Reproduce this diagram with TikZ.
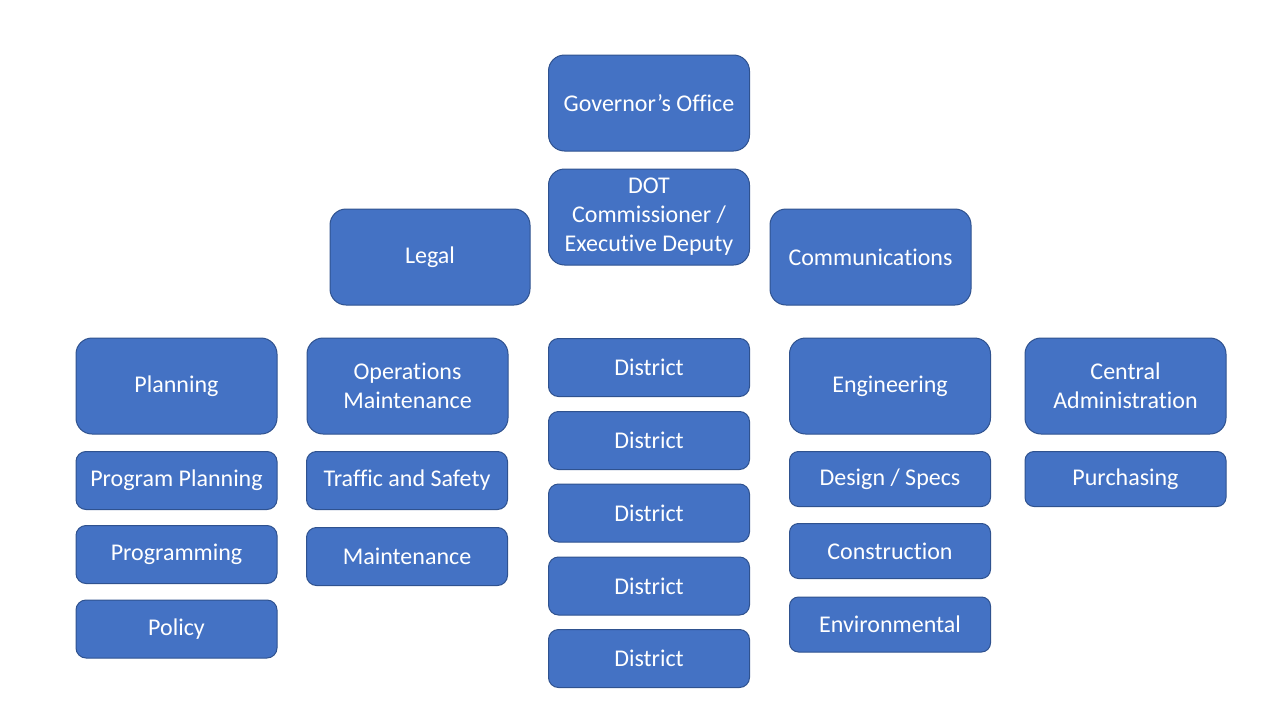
\documentclass[tikz,border=0pt]{standalone}
\usepackage{fontspec}
\setmainfont[Ligatures=CommonOff]{Carlito}
\definecolor{boxfill}{HTML}{4472C4}
\definecolor{boxline}{HTML}{2F528F}
\begin{document}
\begin{tikzpicture}[x=1pt,y=-1pt,
  orgbox/.style={draw=boxline, fill=boxfill, line width=1pt, text=white,
    inner sep=0pt, align=center, font=\fontsize{24}{29}\selectfont},
  big/.style={orgbox, minimum width=201pt, minimum height=96pt, rounded corners=16pt},
  small/.style={orgbox, minimum width=201pt, minimum height=58pt, rounded corners=10pt},
  mid/.style={orgbox, minimum width=201pt, minimum height=55pt, rounded corners=9pt}]
\useasboundingbox (0,0) rectangle (1280,720);
% top
\node[big] (gov) at (649,103) {Governor’s Office};
\node[big] (dot) at (649,217) {DOT\\Commissioner /\\Executive Deputy};
\node[big, minimum width=200pt] (legal) at (430,257) {Legal};
\node[big] (comm) at (870.5,257) {Communications};
% row of departments
\node[big] (plan) at (176.5,386) {Planning};
\node[big] (ops) at (407.5,386) {Operations\\Maintenance};
\node[big] (eng) at (890,386) {Engineering};
\node[big] (cadm) at (1125.5,386) {Central\\Administration};
% districts
\node[small] (d1) at (649,367.5) {District};
\node[small] (d2) at (649,440.5) {District};
\node[small] (d3) at (649,513) {District};
\node[small] (d4) at (649,586) {District};
\node[small] (d5) at (649,658.5) {District};
% planning column
\node[small] (pp) at (176.5,480.5) {Program Planning};
\node[small] (prog) at (176.5,554.5) {Programming};
\node[small] (pol) at (176.5,629) {Policy};
% operations column
\node[small] (ts) at (407,480.5) {Traffic and Safety};
\node[small] (mnt) at (407,556.5) {Maintenance};
% engineering column
\node[mid] (des) at (890,479) {Design / Specs};
\node[mid] (con) at (890,551) {Construction};
\node[mid] (env) at (890,624.5) {Environmental};
% central administration column
\node[mid] (pur) at (1125.5,479) {Purchasing};
\end{tikzpicture}
\end{document}
